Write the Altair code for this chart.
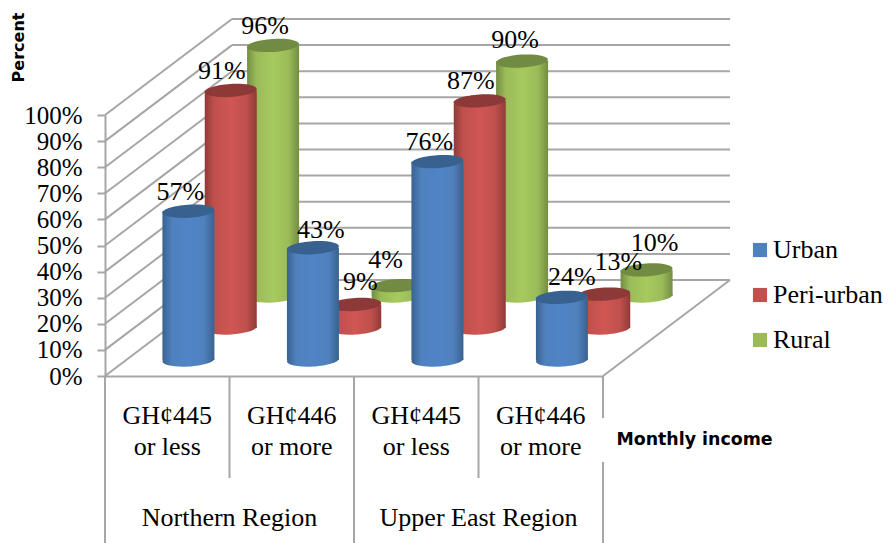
import math
import altair as alt
import pandas as pd

# Survey values, percent of households per income band
series = ["Urban", "Peri-urban", "Rural"]
bands = ["GH¢445", "GH¢446", "GH¢445", "GH¢446"]
bands_second = ["or less", "or more", "or less", "or more"]
regions = ["Northern Region", "Upper East Region"]
urban = [57, 43, 76, 24]
peri_urban = [91, 9, 87, 13]
rural = [96, 4, 90, 10]
ticks = list(range(0, 101, 10))

base_colors = ["#4F81BD", "#C0504D", "#9BBB59"]
edge_colors = ["#3A6190", "#8F3B39", "#748D42"]
mid_colors = ["#4F84C6", "#CF5653", "#A6CA5F"]
cap_colors = ["#386190", "#8C3937", "#718B42"]

SERIF = "'Liberation Serif', 'Times New Roman', serif"
GRID = "#A6A6A6"

# Oblique projection: one category is 124.5 px wide, 1 percent is 2.61 px tall
PX_X, PX_Y = 124.5, 2.61
DEPTH_X, DEPTH_Y = 127 / PX_X, 96 / PX_Y
BAR_W = 52 / PX_X


def ellipse_path(ry=0.25, tilt_deg=-3.5):
    """Unit ellipse outline, tilted slightly, as a symbol path."""
    k = 0.5523
    t = math.radians(tilt_deg)
    c, s = math.cos(t), math.sin(t)
    raw = [
        (1, 0), (1, k * ry), (k, ry), (0, ry), (-k, ry), (-1, k * ry), (-1, 0),
        (-1, -k * ry), (-k, -ry), (0, -ry), (k, -ry), (1, -k * ry), (1, 0),
    ]
    p = [(x * c - y * s, x * s + y * c) for x, y in raw]
    f = lambda q: f"{q[0]:.4f},{q[1]:.4f}"
    out = "M" + f(p[0])
    for i in range(1, 13, 3):
        out += f"C{f(p[i])} {f(p[i + 1])} {f(p[i + 2])}"
    return out + "Z"


CAP = ellipse_path()
CAP_SIZE = 52 ** 2

xs = alt.Scale(domain=[0, 4], nice=False, zero=False)
ys = alt.Scale(domain=[0, 100], nice=False, zero=False)

# Every layer shares these axes: percent ticks, floor edge and the vertical title
x_axis = alt.Axis(title=None, labels=False, ticks=False, grid=False, domain=True,
                  domainColor=GRID, domainWidth=2)
y_axis = alt.Axis(
    values=ticks, labelExpr="datum.value + '%'", grid=False, domain=True,
    domainColor=GRID, domainWidth=2, tickColor=GRID, tickWidth=2, tickSize=8,
    labelFont=SERIF, labelFontSize=25, labelColor="#000000", labelPadding=15,
    labelOverlap=False, title="Percent", titleFont="DejaVu Sans",
    titleFontSize=16, titleFontWeight="bold", titleColor="#000000",
    titleAngle=270, titleX=-87, titleY=-68, titleAlign="center",
    titleBaseline="middle")
X = lambda f: alt.X(f"{f}:Q", scale=xs, axis=x_axis)
Y = lambda f: alt.Y(f"{f}:Q", scale=ys, axis=y_axis)

# Label nudges in pixels (right, up) relative to the centre of each cap
nudges = [
    [(-8, 19), (8, 18), (-8, 20), (10, 20)],
    [(-9, 19.5), (5, 23), (-9, 20), (14, 32)],
    [(-8, 19), (-12, 26), (-7, 21), (8, 27)],
]

rows = []
for i, (name, vals) in enumerate(zip(series, [urban, peri_urban, rural])):
    f = (i + 0.5) / 3
    for c, v in enumerate(vals):
        cx = c + 0.5 + f * DEPTH_X
        y0 = f * DEPTH_Y
        nx, ny = nudges[i][c]
        rows.append(dict(series=name, depth=i, value=v, cx=cx,
                         xl=cx - BAR_W / 2, xr=cx + BAR_W / 2,
                         y0=y0, y1=y0 + v, lx=cx + nx / PX_X,
                         ly=y0 + v + ny / PX_Y, label=f"{v}%"))
bars = pd.DataFrame(rows)

# Back wall, side wall and floor edge
walls = pd.DataFrame(
    [dict(x=DEPTH_X, x2=4 + DEPTH_X, y=t + DEPTH_Y, y2=t + DEPTH_Y) for t in ticks]
    + [dict(x=0, x2=DEPTH_X, y=t, y2=t + DEPTH_Y) for t in ticks]
    + [dict(x=4, x2=4 + DEPTH_X, y=0, y2=DEPTH_Y)]
)

# Separators of the two-level category axis (lengths in pixels below the floor)
seps = pd.DataFrame([
    dict(x=0, y=0, y2=-167 / PX_Y),
    dict(x=1, y=0, y2=-102 / PX_Y),
    dict(x=2, y=0, y2=-167 / PX_Y),
    dict(x=3, y=0, y2=-102 / PX_Y),
    dict(x=4, y=0, y2=-42 / PX_Y),
    dict(x=4, y=-86 / PX_Y, y2=-167 / PX_Y),
])

band_rows = []
for c in range(4):
    band_rows.append(dict(x=c + 0.5, y=-40 / PX_Y, t=bands[c]))
    band_rows.append(dict(x=c + 0.5, y=-71 / PX_Y, t=bands_second[c]))
band_rows.append(dict(x=1, y=-142 / PX_Y, t=regions[0]))
band_rows.append(dict(x=3, y=-142 / PX_Y, t=regions[1]))
band_df = pd.DataFrame(band_rows)

grid_layer = alt.Chart(walls).mark_rule(color=GRID, strokeWidth=2).encode(
    x=X("x"), x2=alt.X2("x2"), y=Y("y"), y2=alt.Y2("y2"))

sep_layer = alt.Chart(seps).mark_rule(color=GRID, strokeWidth=2).encode(
    x=X("x"), y=Y("y"), y2=alt.Y2("y2"))

layers = [grid_layer, sep_layer]

# Cylinders are drawn back to front so nearer rows cover farther ones
for i in [2, 1, 0]:
    sub = bars[bars.depth == i]
    grad = dict(
        gradient="linear", x1=0, y1=0, x2=1, y2=0,
        stops=[
            dict(offset=0, color=edge_colors[i]),
            dict(offset=0.18, color=base_colors[i]),
            dict(offset=0.5, color=mid_colors[i]),
            dict(offset=0.8, color=base_colors[i]),
            dict(offset=1, color=edge_colors[i]),
        ],
    )
    layers.append(alt.Chart(sub).mark_point(
        shape=CAP, size=CAP_SIZE, filled=True, fill=grad, opacity=1, strokeWidth=0
    ).encode(x=X("cx"), y=Y("y0")))
    layers.append(alt.Chart(sub).mark_rect(fill=grad, strokeWidth=0).encode(
        x=X("xl"), x2=alt.X2("xr"), y=Y("y0"), y2=alt.Y2("y1")))
    layers.append(alt.Chart(sub).mark_point(
        shape=CAP, size=CAP_SIZE, filled=True, fill=cap_colors[i], opacity=1, strokeWidth=0
    ).encode(x=X("cx"), y=Y("y1")))

label_layer = alt.Chart(bars).mark_text(
    font=SERIF, fontSize=26, color="#000000", align="center", baseline="middle"
).encode(x=X("lx"), y=Y("ly"), text="label:N")

band_layer = alt.Chart(band_df).mark_text(
    font=SERIF, fontSize=26, color="#000000", align="center", baseline="middle"
).encode(x=X("x"), y=Y("y"), text="t:N")

title_layer = alt.Chart(pd.DataFrame({"x": [4 + 91.5 / PX_X], "y": [-63.5 / PX_Y], "t": ["Monthly income"]})).mark_text(
    font="DejaVu Sans", fontSize=17.4, fontWeight="bold", color="#000000",
    align="center", baseline="middle"
).encode(x=X("x"), y=Y("y"), text="t:N")

# Transparent marks that only feed the series legend
legend_layer = alt.Chart(bars).mark_square(opacity=0).encode(
    x=X("cx"), y=Y("y1"),
    color=alt.Color("series:N", scale=alt.Scale(domain=series, range=base_colors),
                    legend=alt.Legend(
                        title=None, orient="none", legendX=642, legendY=122,
                        symbolType="square", symbolSize=200, symbolOpacity=1,
                        symbolStrokeWidth=0, labelFont=SERIF, labelFontSize=26,
                        labelColor="#000000", labelOffset=0, rowPadding=19,
                    )),
)

chart = alt.layer(*layers, label_layer, band_layer, title_layer, legend_layer).properties(
    width=498, height=261,
    padding={"left": 105, "top": 115, "right": 285, "bottom": 167},
    autosize=alt.AutoSizeParams(type="none"),
    background="#FFFFFF",
).configure_view(stroke=None)

chart.save("out.html", embed_options={"renderer": "svg", "actions": False})
